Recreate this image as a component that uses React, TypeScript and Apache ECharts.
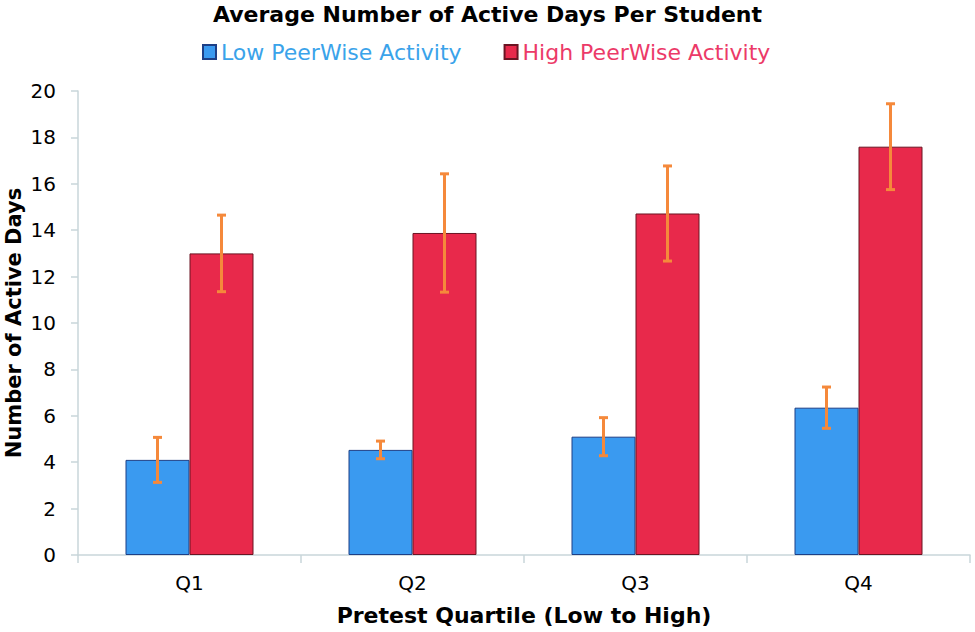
import React, { useEffect, useRef } from "react";
import * as echarts from "echarts";

const categories = ["Q1", "Q2", "Q3", "Q4"];
const lowMeans = [4.1, 4.53, 5.1, 6.35];
const lowErrors = [0.97, 0.38, 0.82, 0.89];
const highMeans = [13.0, 13.88, 14.72, 17.6];
const highErrors = [1.65, 2.55, 2.05, 1.85];
const yTicks = { min: 0, max: 20, interval: 2 };

const FONT = "'DejaVu Sans', Verdana, sans-serif";
const BAR_W = 64;

export default function App() {
  const ref = useRef<HTMLDivElement>(null);

  useEffect(() => {
    if (!ref.current) return;
    document.body.style.margin = "0";
    const chart = echarts.init(ref.current, undefined, { renderer: "svg" });

    const errData = (means: number[], errs: number[]) =>
      means.map((m, i) => [i, m, errs[i]]);

    const makeErr = (offset: number) => (params: any, api: any) => {
      const i = api.value(0);
      const m = api.value(1);
      const e = api.value(2);
      const top = api.coord([i, m + e]);
      const bot = api.coord([i, m - e]);
      const x = top[0] + offset;
      const cap = 4.5;
      const style = { stroke: "#f5893b", lineWidth: 3 };
      return {
        type: "group",
        children: [
          { type: "line", shape: { x1: x, y1: top[1], x2: x, y2: bot[1] }, style },
          { type: "line", shape: { x1: x - cap, y1: top[1], x2: x + cap, y2: top[1] }, style },
          { type: "line", shape: { x1: x - cap, y1: bot[1], x2: x + cap, y2: bot[1] }, style },
        ],
      };
    };

    const axisColor = "#c9d6da";

    chart.setOption({
      animation: false,
      textStyle: { fontFamily: FONT },
      title: {
        text: "Average Number of Active Days Per Student",
        left: "center",
        top: -2,
        textStyle: { fontFamily: FONT, fontSize: 22, fontWeight: "bold", color: "#000" },
      },
      legend: {
        data: [
          { name: "Low PeerWise Activity", textStyle: { color: "#3aa3ea" } },
          { name: "High PeerWise Activity", textStyle: { color: "#ec3a68" } },
        ],
        left: 197,
        top: 36,
        icon: "rect",
        itemWidth: 13,
        itemHeight: 14,
        itemGap: 42,
        textStyle: { fontFamily: FONT, fontSize: 22 },
      },
      grid: { left: 78, right: 5, top: 91, bottom: 77, containLabel: false, outerBoundsMode: "none" },
      xAxis: {
        type: "category",
        data: categories,
        name: "Pretest Quartile (Low to High)",
        nameLocation: "middle",
        nameGap: 49,
        nameMoveOverlap: false,
        nameTextStyle: { fontFamily: FONT, fontSize: 22, fontWeight: "bold", color: "#000" },
        axisLine: { lineStyle: { color: axisColor, width: 1.5 } },
        axisTick: { show: true, length: 8, lineStyle: { color: axisColor, width: 1.5 } },
        axisLabel: { fontFamily: FONT, fontSize: 20, color: "#000", margin: 18 },
        splitLine: { show: false },
      },
      yAxis: {
        type: "value",
        min: yTicks.min,
        max: yTicks.max,
        interval: yTicks.interval,
        name: "Number of Active Days",
        nameLocation: "middle",
        nameGap: 54,
        nameMoveOverlap: false,
        nameTextStyle: { fontFamily: FONT, fontSize: 21, fontWeight: "bold", color: "#000" },
        axisLine: { show: true, lineStyle: { color: axisColor, width: 1.5 } },
        axisTick: { show: true, length: 7, lineStyle: { color: axisColor, width: 1.5 } },
        axisLabel: { fontFamily: FONT, fontSize: 20, color: "#000", margin: 22 },
        splitLine: { show: false },
      },
      series: [
        {
          name: "Low PeerWise Activity",
          type: "bar",
          data: lowMeans,
          barWidth: BAR_W,
          barGap: "0%",
          itemStyle: { color: "#3a9af0", borderColor: "#1d3f86", borderWidth: 1 },
        },
        {
          name: "High PeerWise Activity",
          type: "bar",
          data: highMeans,
          barWidth: BAR_W,
          barGap: "0%",
          itemStyle: { color: "#e8294b", borderColor: "#6b1422", borderWidth: 1 },
        },
        {
          name: "lowErr",
          type: "custom",
          renderItem: makeErr(-BAR_W / 2),
          data: errData(lowMeans, lowErrors),
          encode: { x: 0, y: 1 },
          z: 10,
          silent: true,
        },
        {
          name: "highErr",
          type: "custom",
          renderItem: makeErr(BAR_W / 2),
          data: errData(highMeans, highErrors),
          encode: { x: 0, y: 1 },
          z: 10,
          silent: true,
        },
      ],
    });

    return () => chart.dispose();
  }, []);

  return (
    <div
      ref={ref}
      style={{ position: "fixed", left: 0, top: 0, width: 975, height: 632, background: "#fff" }}
    />
  );
}
